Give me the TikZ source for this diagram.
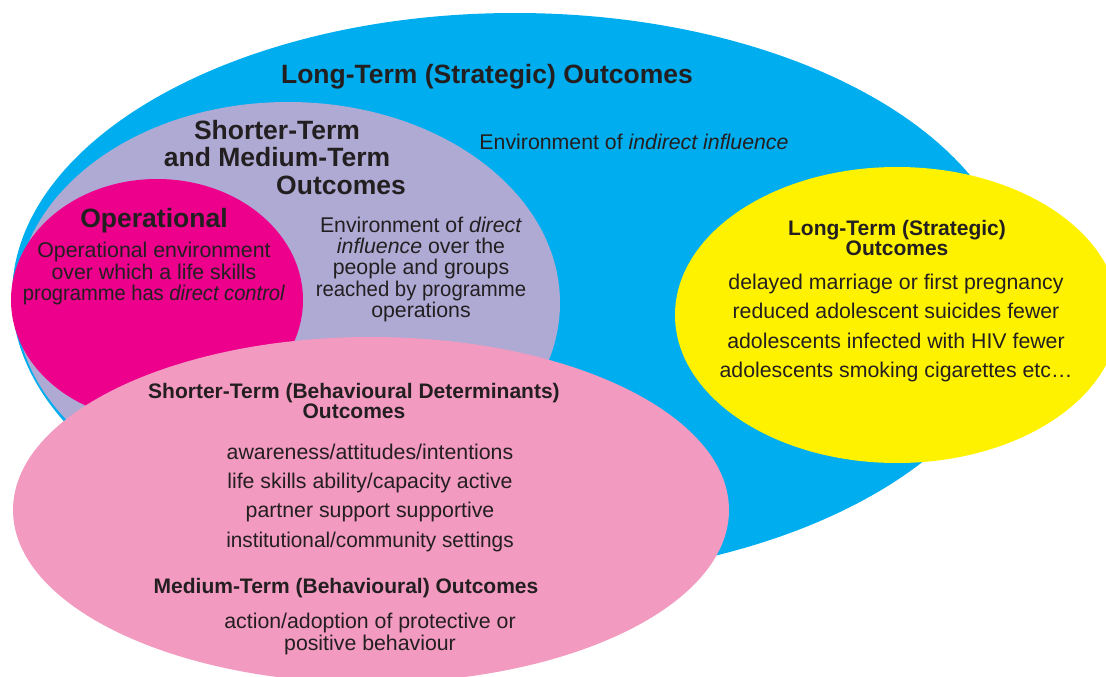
\documentclass[tikz,border=0pt]{standalone}
\usepackage{fontspec}
\usepackage{graphicx}
\setmainfont{Liberation Sans}
\definecolor{skyb}{HTML}{00AEEF}
\definecolor{lav}{HTML}{AFAAD4}
\definecolor{mag}{HTML}{EC008C}
\definecolor{pnk}{HTML}{F39AC0}
\definecolor{yel}{HTML}{FFF200}
\definecolor{ink}{HTML}{231F20}
\newcommand\bigttl{\fontsize{26.5pt}{28pt}\selectfont\bfseries}
\newcommand\midttl{\fontsize{21pt}{22pt}\selectfont\bfseries}
\newcommand\bodyf{\fontsize{21.3pt}{22pt}\selectfont}
\begin{document}
\begin{tikzpicture}[x=1pt,y=-1pt,
  line/.style={anchor=base, inner sep=0pt, text=ink, font=\bodyf},
  bigline/.style={line, font=\bigttl},
  midline/.style={line, font=\midttl}]
\useasboundingbox (0,0) rectangle (1106,677);
\clip (0,0) rectangle (1106,677);
% ellipses
\fill[skyb] (515,296) ellipse [x radius=503, y radius=283];
\fill[lav] (288,303) ellipse [x radius=272, y radius=201];
\fill[mag] (157,300) ellipse [x radius=146, y radius=121];
\fill[pnk] (371,510) ellipse [x radius=358, y radius=173];
\fill[yel] (897,315) ellipse [x radius=222, y radius=148];
% blue texts
\node[bigline] (lt) at (487,84) {Long-Term (Strategic) Outcomes};
\node[line] (ind) at (634,149) {Environment of \textit{indirect influence}};
% lavender texts
\node[bigline] (sm1) at (277,139) {Shorter-Term};
\node[bigline] (sm2) at (277,166) {and Medium-Term};
\node[bigline] (sm3) at (341,194) {Outcomes};
\node[line] (d1) at (421,232) {Environment of \textit{direct}};
\node[line] (d2) at (421,253) {\textit{influence} over the};
\node[line] (d3) at (421,274) {people and groups};
\node[line] (d4) at (421,296) {\scalebox{0.955}[1]{reached by programme}};
\node[line] (d5) at (421,317) {operations};
% magenta texts
\node[bigline] (op) at (154,227) {Operational};
\node[line] (o1) at (154,257) {Operational environment};
\node[line] (o2) at (154,279) {over which a life skills};
\node[line] (o3) at (154,300) {\scalebox{0.945}[1]{programme has \textit{direct control}}};
% pink texts
\node[midline] (st1) at (354,398) {Shorter-Term (Behavioural Determinants)};
\node[midline] (st2) at (354,418) {Outcomes};
\node[line] (p1) at (370,459) {awareness/attitudes/intentions};
\node[line] (p2) at (370,488) {life skills ability/capacity active};
\node[line] (p3) at (370,517) {partner support supportive};
\node[line] (p4) at (370,547) {\scalebox{0.975}[1]{institutional/community settings}};
\node[midline] (mt) at (346,593) {Medium-Term (Behavioural) Outcomes};
\node[line] (a1) at (370,628) {action/adoption of protective or};
\node[line] (a2) at (370,650) {positive behaviour};
% yellow texts
\node[midline] (y1) at (897,235) {Long-Term (Strategic)};
\node[midline] (y2) at (897,255) {Outcomes};
\node[line] (yb1) at (896,289) {delayed marriage or first pregnancy};
\node[line] (yb2) at (896,318) {reduced adolescent suicides fewer};
\node[line] (yb3) at (896,348) {adolescents infected with HIV fewer};
\node[line] (yb4) at (896,377) {adolescents smoking cigarettes etc…};
\end{tikzpicture}
\end{document}
